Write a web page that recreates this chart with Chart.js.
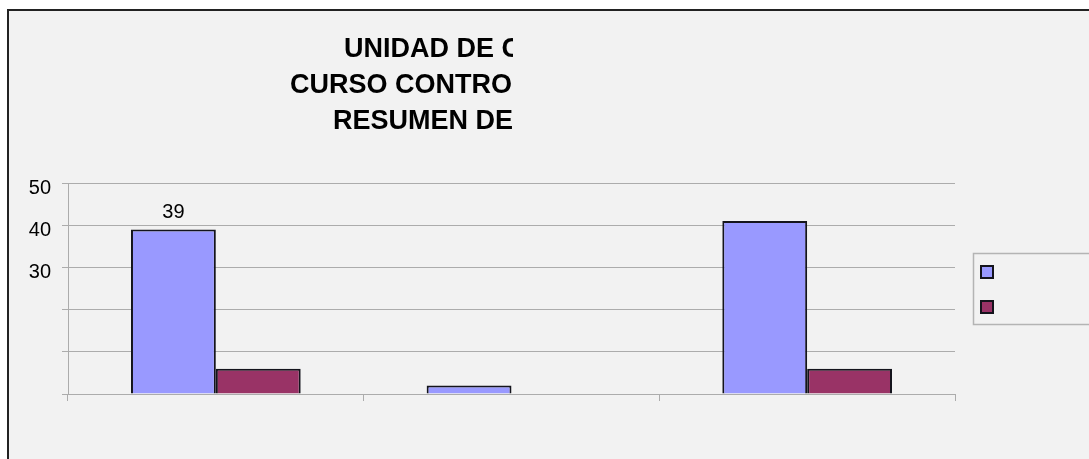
<!DOCTYPE html>
<html>
<head>
<meta charset="utf-8">
<script src="https://cdn.jsdelivr.net/npm/chart.js@4"></script>
<style>
  body { margin: 0; background: #fff; }
  #wrap { width: 1089px; height: 459px; }
</style>
</head>
<body>
<div id="wrap"><canvas id="chart" width="1089" height="459"></canvas></div>
<script>
// category names are cut off in the picture, so they stay blank
const categories = ['', '', ''];
const seriesA = [39, 2, 41];
const seriesB = [6, 0, 6];
const valueLabelsA = ['39', null, null];
const yTicksShown = [30, 40, 50];
const titleLines = ['UNIDAD DE C', 'CURSO CONTRO', 'RESUMEN DE'];

const BLUE = '#9999ff';
const MAROON = '#993366';
const EDGE = '#14141c';
const GRID = '#acacac';

// frame + grey background behind everything
const framePlugin = {
  id: 'frame',
  beforeDraw(chart) {
    const ctx = chart.ctx;
    ctx.save();
    ctx.fillStyle = '#ffffff';
    ctx.fillRect(0, 0, chart.width, chart.height);
    ctx.fillStyle = '#f2f2f2';
    ctx.fillRect(7, 10, chart.width, chart.height);
    ctx.strokeStyle = '#222';
    ctx.lineWidth = 2;
    ctx.beginPath();
    ctx.moveTo(8, chart.height + 5);
    ctx.lineTo(8, 10);
    ctx.lineTo(chart.width + 5, 10);
    ctx.stroke();
    ctx.restore();
  }
};

// title is clipped on the right like in the source image
const titlePlugin = {
  id: 'clippedTitle',
  afterDraw(chart) {
    const ctx = chart.ctx;
    const starts = [344, 290, 333];
    const baselines = [57, 93, 129];
    ctx.save();
    ctx.beginPath();
    ctx.rect(0, 0, 513, 150);
    ctx.clip();
    ctx.fillStyle = '#000';
    ctx.font = 'bold 27px "Liberation Sans", Arial, sans-serif';
    ctx.textBaseline = 'alphabetic';
    titleLines.forEach((t, i) => ctx.fillText(t, starts[i], baselines[i]));
    ctx.restore();
  }
};

const valueLabelPlugin = {
  id: 'valueLabels',
  afterDatasetsDraw(chart) {
    const ctx = chart.ctx;
    const meta = chart.getDatasetMeta(0);
    ctx.save();
    ctx.fillStyle = '#000';
    ctx.font = '20px "Liberation Sans", Arial, sans-serif';
    ctx.textAlign = 'center';
    ctx.textBaseline = 'alphabetic';
    meta.data.forEach((bar, i) => {
      if (valueLabelsA[i]) ctx.fillText(valueLabelsA[i], bar.x, bar.y - 11);
    });
    ctx.restore();
  }
};

// legend box with swatches only (labels are cut off)
const legendPlugin = {
  id: 'boxLegend',
  afterDraw(chart) {
    const ctx = chart.ctx;
    ctx.save();
    ctx.strokeStyle = '#b4b4b4';
    ctx.lineWidth = 1.5;
    ctx.strokeRect(973.5, 253.5, 130, 71);
    chart.data.datasets.forEach((ds, i) => {
      const y = 266 + i * 35;
      ctx.fillStyle = ds.backgroundColor;
      ctx.fillRect(981, y, 12, 12);
      ctx.strokeStyle = EDGE;
      ctx.lineWidth = 2;
      ctx.strokeRect(981, y, 12, 12);
    });
    ctx.restore();
  }
};

new Chart(document.getElementById('chart'), {
  type: 'bar',
  data: {
    labels: categories,
    datasets: [
      { label: '', data: seriesA, backgroundColor: BLUE, borderColor: EDGE, borderWidth: 2 },
      { label: '', data: seriesB, backgroundColor: MAROON, borderColor: EDGE, borderWidth: 2 }
    ]
  },
  options: {
    responsive: false,
    animation: false,
    layout: { padding: { left: 0, top: 183, right: 134, bottom: 58 } },
    plugins: {
      legend: { display: false },
      title: { display: false },
      tooltip: { enabled: false }
    },
    datasets: {
      bar: { categoryPercentage: 0.574, barPercentage: 1.0 }
    },
    scales: {
      x: {
        grid: { display: true, drawOnChartArea: false, tickLength: 7, color: GRID },
        border: { display: true, color: GRID },
        ticks: { display: false }
      },
      y: {
        min: 0,
        max: 50,
        afterFit(scale) { scale.width = 68; },
        grid: { color: GRID, tickLength: 6 },
        border: { display: true, color: GRID },
        ticks: {
          stepSize: 10,
          padding: 11,
          labelOffset: 5,
          color: '#000',
          font: { family: '"Liberation Sans", Arial, sans-serif', size: 20 },
          callback: (v) => yTicksShown.includes(v) ? String(v) : ''
        }
      }
    }
  },
  plugins: [framePlugin, titlePlugin, valueLabelPlugin, legendPlugin]
});
</script>
</body>
</html>
